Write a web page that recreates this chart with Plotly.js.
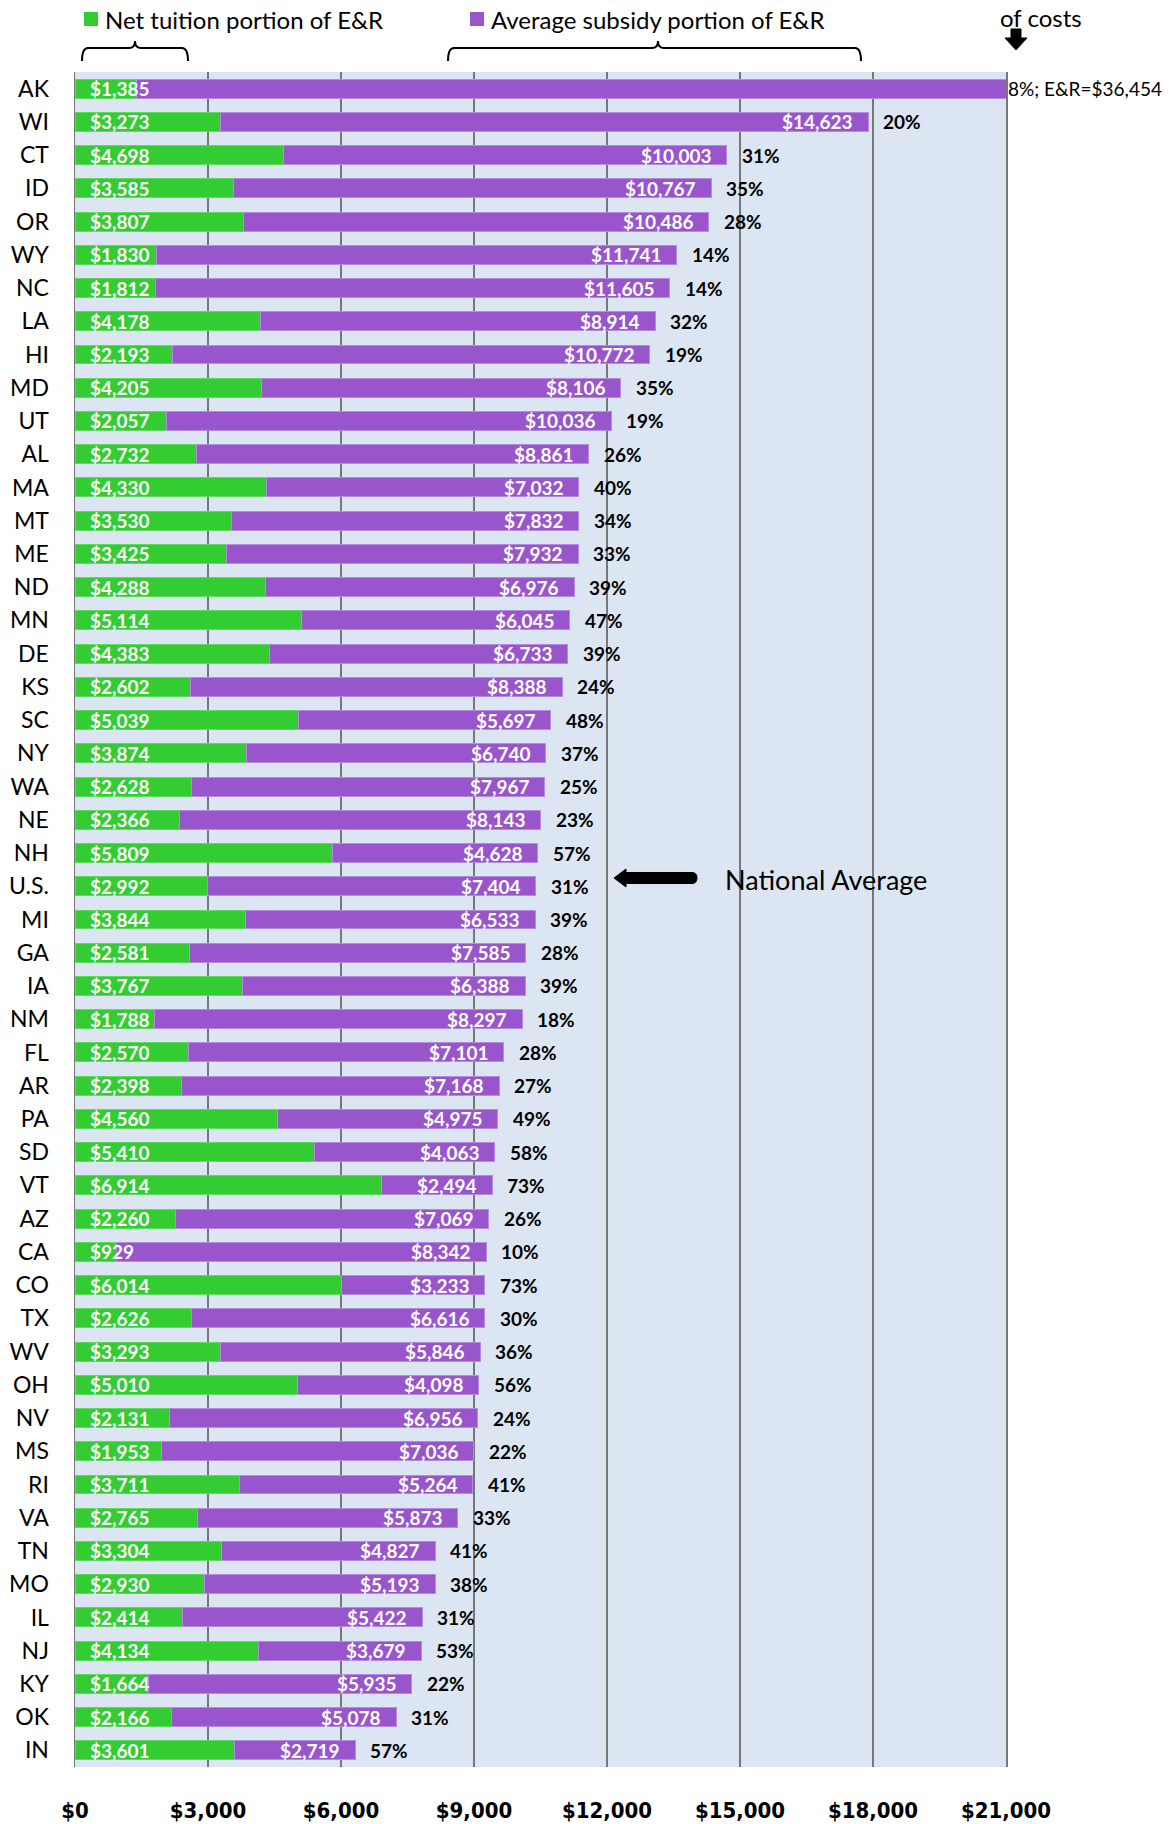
<!DOCTYPE html>
<html><head><meta charset="utf-8">
<script src="https://cdn.plot.ly/plotly-3.0.1.min.js"></script>
<style>html,body{margin:0;padding:0;background:#fff}#chart{width:1170px;height:1824px}</style>
</head><body><div id="chart"></div>
<script>
const states = ["AK","WI","CT","ID","OR","WY","NC","LA","HI","MD","UT","AL","MA","MT","ME","ND","MN","DE","KS","SC","NY","WA","NE","NH","U.S.","MI","GA","IA","NM","FL","AR","PA","SD","VT","AZ","CA","CO","TX","WV","OH","NV","MS","RI","VA","TN","MO","IL","NJ","KY","OK","IN"];
const netTuition = [1385,3273,4698,3585,3807,1830,1812,4178,2193,4205,2057,2732,4330,3530,3425,4288,5114,4383,2602,5039,3874,2628,2366,5809,2992,3844,2581,3767,1788,2570,2398,4560,5410,6914,2260,929,6014,2626,3293,5010,2131,1953,3711,2765,3304,2930,2414,4134,1664,2166,3601];
const avgSubsidy = [35069,14623,10003,10767,10486,11741,11605,8914,10772,8106,10036,8861,7032,7832,7932,6976,6045,6733,8388,5697,6740,7967,8143,4628,7404,6533,7585,6388,8297,7101,7168,4975,4063,2494,7069,8342,3233,6616,5846,4098,6956,7036,5264,5873,4827,5193,5422,3679,5935,5078,2719];
const tuitionSharePct = [8,20,31,35,28,14,14,32,19,35,19,26,40,34,33,39,47,39,24,48,37,25,23,57,31,39,28,39,18,28,27,49,58,73,26,10,73,30,36,56,24,22,41,33,41,38,31,53,22,31,57];
const xTicks = [0,3000,6000,9000,12000,15000,18000,21000];
const seriesNames = ["Net tuition portion of E&R","Average subsidy portion of E&R"];
const nationalLabel = "National Average";
const topNote = "of costs";

const GREEN = "#33cc33", PURPLE = "#9955cc";
const XMAX = 21000;
const fmt = v => "$" + v.toLocaleString("en-US");

// plot-area pixel box (for decorations only)
const PL = 75, PR = 1006, PT = 72, PB = 1767;
const px = x => (x - PL) / (PR - PL);
const py = y => (PB - y) / (PB - PT);
function path(pts){
  return pts.map(p => {
    const c = p[0]; const nums = p.slice(1);
    let out = c;
    for (let i = 0; i < nums.length; i += 2) out += (i ? " " : "") + px(nums[i]).toFixed(5) + "," + py(nums[i+1]).toFixed(5);
    return out;
  }).join(" ");
}

const traces = [
  {type:"bar", orientation:"h", name:seriesNames[0], y:states, x:netTuition,
   marker:{color:GREEN, line:{color:"#5fdc5f", width:1}}, hoverinfo:"x+y"},
  {type:"bar", orientation:"h", name:seriesNames[1], y:states, x:avgSubsidy,
   marker:{color:PURPLE, line:{color:"#b58ae0", width:1}}, hoverinfo:"x+y"}
];

const ann = [];
const lblFont = {family:"Lato, sans-serif", size:19, color:"#ffffff", weight:"bold"};
states.forEach((s, i) => {
  const total = netTuition[i] + avgSubsidy[i];
  ann.push({x:0, y:s, xref:"x", yref:"y", text:fmt(netTuition[i]), showarrow:false,
            xanchor:"left", yanchor:"middle", xshift:13, font:lblFont});
  if (total <= XMAX) {
    ann.push({x:total, y:s, xref:"x", yref:"y", text:fmt(avgSubsidy[i]), showarrow:false,
              xanchor:"right", yanchor:"middle", xshift:-13, font:lblFont});
    ann.push({x:total, y:s, xref:"x", yref:"y", text:tuitionSharePct[i] + "%", showarrow:false,
              xanchor:"left", yanchor:"middle", xshift:13,
              font:{family:"Lato, sans-serif", size:19, color:"#000", weight:"bold"}});
  } else {
    ann.push({x:XMAX, y:s, xref:"x", yref:"y", text:tuitionSharePct[i] + "%; E&R=" + fmt(total), showarrow:false,
              xanchor:"left", yanchor:"middle", xshift:0,
              font:{family:"Lato, sans-serif", size:19, color:"#000"}});
  }
});
ann.push({xref:"paper", yref:"paper", x:px(723), y:py(879), text:nationalLabel, showarrow:false,
          xanchor:"left", yanchor:"middle", font:{family:"Lato, sans-serif", size:27, color:"#000"}});
ann.push({xref:"paper", yref:"paper", x:px(998), y:py(17), text:topNote, showarrow:false,
          xanchor:"left", yanchor:"middle", font:{family:"Lato, sans-serif", size:24, color:"#000"}});
// legend (drawn manually)
const legendItems = [{name:seriesNames[0], color:GREEN, x:84}, {name:seriesNames[1], color:PURPLE, x:470}];
legendItems.forEach(it => {
  ann.push({xref:"paper", yref:"paper", x:px(it.x + 19), y:py(19), text:it.name, showarrow:false,
            xanchor:"left", yanchor:"middle", font:{family:"Lato, sans-serif", size:24, color:"#000"}});
});

function brace(x1, xm, x2, yTop, yEnd, yPeak){
  const r = 6;
  return path([["M",x1,yEnd],["Q",x1,yTop,x1+r,yTop],["L",xm-r,yTop],["Q",xm,yTop,xm,yPeak],
               ["Q",xm,yTop,xm+r,yTop],["L",x2-r,yTop],["Q",x2,yTop,x2,yEnd]]);
}
const shapes = [
  {type:"path", xref:"paper", yref:"paper", path:brace(82,135,188,48,61,41), line:{color:"#000", width:2}},
  {type:"path", xref:"paper", yref:"paper", path:brace(448,658,861,48,61,41), line:{color:"#000", width:2}},
  {type:"path", xref:"paper", yref:"paper", fillcolor:"#000", line:{color:"#000", width:1},
   path:path([["M",614,878],["L",626,869],["L",626,872.5],["L",692,872.5],["Q",697,872.5,697,878],
              ["Q",697,883.5,692,883.5],["L",626,883.5],["L",626,887]]) + " Z"},
  {type:"path", xref:"paper", yref:"paper", fillcolor:"#000", line:{color:"#000", width:1},
   path:path([["M",1011,29],["L",1021,29],["L",1021,38],["L",1027,38],["L",1016,50],["L",1005,38],["L",1011,38]]) + " Z"}
];
legendItems.forEach(it => {
  shapes.push({type:"rect", xref:"paper", yref:"paper", x0:px(it.x), x1:px(it.x + 14), y0:py(26), y1:py(12),
               fillcolor:it.color, line:{width:0}});
});

const layout = {
  width:1170, height:1824,
  margin:{l:PL, r:1170-PR, t:PT, b:1824-PB, pad:0},
  paper_bgcolor:"#ffffff", plot_bgcolor:"#dce6f2",
  barmode:"stack", bargap:0.43,
  font:{family:"Lato, sans-serif", color:"#000"},
  showlegend:false,
  xaxis:{range:[0, XMAX], tickvals:xTicks, ticktext:xTicks.map(fmt),
         showgrid:true, gridcolor:"#777777", gridwidth:1.5, zeroline:false,
         showline:false, ticks:"", ticklabelstandoff:28,
         tickfont:{family:"'DejaVu Sans Condensed', sans-serif", size:22, weight:"bold", color:"#000"},
         fixedrange:true, automargin:false},
  yaxis:{type:"category", autorange:"reversed", showgrid:false, zeroline:false,
         showline:true, mirror:true, linecolor:"#777777", linewidth:1.5,
         ticks:"", ticklabelstandoff:20,
         tickfont:{family:"Lato, sans-serif", size:23, color:"#000"}, fixedrange:true, automargin:false},
  annotations:ann, shapes:shapes
};
Plotly.newPlot("chart", traces, layout, {displayModeBar:false, staticPlot:true});
</script></body></html>
